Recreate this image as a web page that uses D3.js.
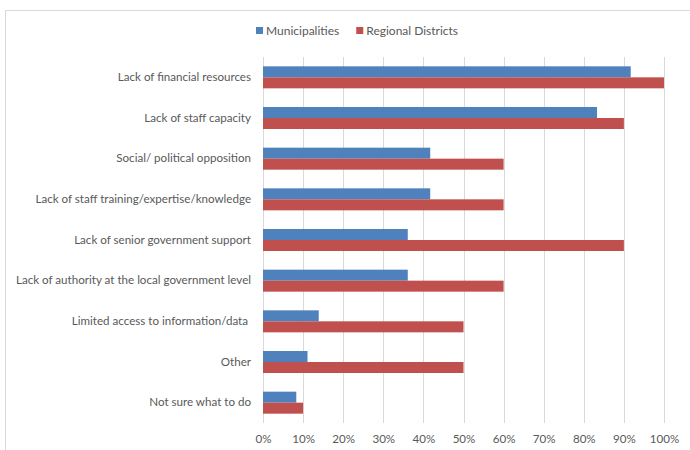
<!DOCTYPE html>
<html>
<head>
<meta charset="utf-8">
<script src="https://cdn.jsdelivr.net/npm/d3@7"></script>
<style>
  html, body { margin: 0; padding: 0; background: #fff; }
  svg { display: block; }
  text { font-family: Lato, "Open Sans", sans-serif; fill: #595959; }
</style>
</head>
<body>
<svg id="chart" width="690" height="450"></svg>
<script>
// Barriers to action, share of respondents by government type
const categories = [
  "Lack of financial resources",
  "Lack of staff capacity",
  "Social/ political opposition",
  "Lack of staff training/expertise/knowledge",
  "Lack of senior government support",
  "Lack of authority at the local government level",
  "Limited access to information/data ",
  "Other",
  "Not sure what to do"
];
const municipalities = [91.7, 83.3, 41.7, 41.7, 36.1, 36.1, 13.9, 11.1, 8.3];
const regionalDistricts = [100, 90, 60, 60, 90, 60, 50, 50, 10];
const seriesNames = ["Municipalities", "Regional Districts"];
const seriesColors = ["#4F81BD", "#C0504D"];
const tickValues = [0, 10, 20, 30, 40, 50, 60, 70, 80, 90, 100];

const svg = d3.select("#chart");
const font = "Lato, 'Open Sans', sans-serif";

// outer frame of the chart area
svg.append("rect")
  .attr("x", 5.5).attr("y", 10.5)
  .attr("width", 700).attr("height", 460)
  .attr("fill", "none").attr("stroke", "#d9d9d9");

const plot = { left: 263, right: 664, top: 57, bottom: 423 };

const x = d3.scaleLinear().domain([0, 100]).range([plot.left, plot.right]);
const y = d3.scaleBand().domain(categories).range([plot.top, plot.bottom]).paddingInner(0).paddingOuter(0);
const barH = 11;

// vertical gridlines
svg.append("g")
  .selectAll("line")
  .data(tickValues)
  .join("line")
  .attr("x1", d => Math.round(x(d)) + 0.5)
  .attr("x2", d => Math.round(x(d)) + 0.5)
  .attr("y1", plot.top)
  .attr("y2", plot.bottom)
  .attr("stroke", "#d9d9d9")
  .attr("stroke-width", 1);

// x axis tick labels
const xAxis = d3.axisBottom(x)
  .tickValues(tickValues)
  .tickFormat(d => d + "%")
  .tickSize(0)
  .tickPadding(12);
const gx = svg.append("g")
  .attr("transform", `translate(0,${plot.bottom})`)
  .call(xAxis);
gx.select(".domain").remove();
gx.selectAll("text")
  .attr("font-size", 11.6)
  .style("font-family", font)
  .attr("fill", "#595959");

// y axis category labels
const yAxis = d3.axisLeft(y).tickSize(0).tickPadding(12);
const gy = svg.append("g")
  .attr("transform", `translate(${plot.left},0)`)
  .call(yAxis);
gy.select(".domain").remove();
gy.selectAll("text")
  .attr("font-size", 11.6)
  .style("font-family", font)
  .style("white-space", "pre")
  .attr("fill", "#595959");

// bars
const series = [municipalities, regionalDistricts];
series.forEach((vals, si) => {
  svg.append("g")
    .selectAll("rect")
    .data(vals)
    .join("rect")
    .attr("x", x(0))
    .attr("y", (d, i) => y(categories[i]) + y.bandwidth() / 2 - barH + si * barH)
    .attr("width", d => x(d) - x(0))
    .attr("height", barH)
    .attr("fill", seriesColors[si]);
});

// legend, laid out left to right from measured text widths
const legend = svg.append("g").attr("transform", "translate(256,26)");
let lx = 0;
seriesNames.forEach((name, i) => {
  const g = legend.append("g").attr("transform", `translate(${lx},0)`);
  g.append("rect").attr("x", 0).attr("y", 1).attr("width", 7).attr("height", 7).attr("fill", seriesColors[i]);
  const t = g.append("text").attr("x", 10).attr("y", 8.5).attr("font-size", 12)
    .style("font-family", font).text(name);
  lx += 10 + t.node().getComputedTextLength() + 17;
});
</script>
</body>
</html>
